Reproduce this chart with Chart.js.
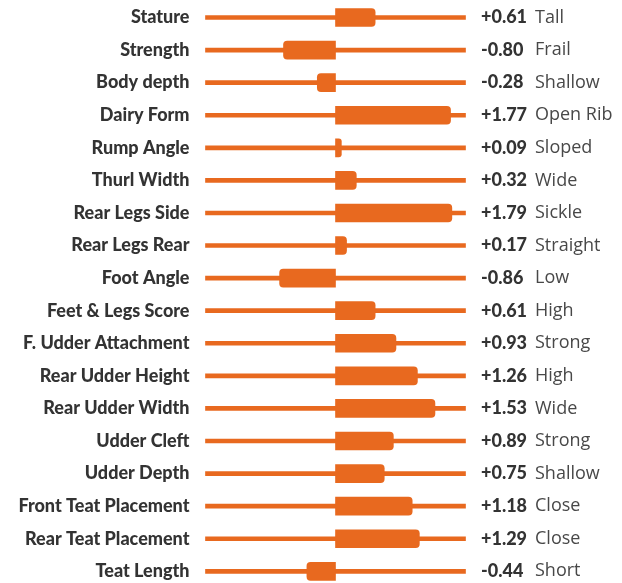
<!DOCTYPE html>
<html>
<head>
<meta charset="utf-8">
<script src="https://cdn.jsdelivr.net/npm/chart.js@4.4.6/dist/chart.umd.min.js"></script>
<style>
  html, body { margin: 0; padding: 0; background: #fff; }
  #wrap { width: 622px; height: 583px; position: relative; }
</style>
</head>
<body>
<div id="wrap"><canvas id="traits"></canvas></div>
<script>
// linear type traits, deviation from breed average
const traits = ['Stature', 'Strength', 'Body depth', 'Dairy Form', 'Rump Angle', 'Thurl Width',
  'Rear Legs Side', 'Rear Legs Rear', 'Foot Angle', 'Feet & Legs Score', 'F. Udder Attachment',
  'Rear Udder Height', 'Rear Udder Width', 'Udder Cleft', 'Udder Depth', 'Front Teat Placement',
  'Rear Teat Placement', 'Teat Length']
const scores = [0.61, -0.80, -0.28, 1.77, 0.09, 0.32, 1.79, 0.17, -0.86, 0.61, 0.93,
  1.26, 1.53, 0.89, 0.75, 1.18, 1.29, -0.44]
const descriptors = ['Tall', 'Frail', 'Shallow', 'Open Rib', 'Sloped', 'Wide', 'Sickle', 'Straight',
  'Low', 'High', 'Strong', 'High', 'Wide', 'Strong', 'Shallow', 'Close', 'Close', 'Short']
const axisMin = -2
const axisMax = 2

const ORANGE = '#E8691F'
const INK = '#333333'

function fmt (v) {
  return (v >= 0 ? '+' : '-') + Math.abs(v).toFixed(2)
}

// value + descriptor text to the right of each track
const sideLabels = {
  id: 'sideLabels',
  afterDatasetsDraw (chart) {
    const { ctx } = chart
    const y = chart.scales.y
    ctx.save()
    ctx.textBaseline = 'middle'
    ctx.textAlign = 'left'
    scores.forEach((v, i) => {
      const py = y.getPixelForValue(i)
      ctx.fillStyle = INK
      ctx.font = '900 18px Lato'
      ctx.fillText(fmt(v), 481, py)
      ctx.fillStyle = '#484848'
      ctx.font = '18px "Open Sans"'
      ctx.fillText(descriptors[i], 535, py)
    })
    ctx.restore()
  }
}

new Chart(document.getElementById('traits'), {
  type: 'bar',
  data: {
    labels: traits,
    datasets: [
      {
        data: scores,
        backgroundColor: ORANGE,
        barThickness: 18,
        borderRadius: 4,
        grouped: false,
        clip: false,
        order: 0
      },
      {
        // full-width track behind the bars
        data: traits.map(() => [axisMin, axisMax]),
        backgroundColor: ORANGE,
        barThickness: 4,
        borderRadius: 0,
        grouped: false,
        clip: false,
        order: 1
      }
    ]
  },
  options: {
    indexAxis: 'y',
    responsive: true,
    maintainAspectRatio: false,
    animation: false,
    layout: { padding: { top: 17.5, bottom: 11.7, right: 156.5 } },
    plugins: { legend: { display: false }, tooltip: { enabled: false } },
    scales: {
      x: { display: false, min: axisMin, max: axisMax },
      y: {
        offset: false,
        border: { display: false },
        // invisible tick marks give the gap between label and track
        grid: { color: 'rgba(0,0,0,0)', drawOnChartArea: false, tickLength: 16 },
        ticks: { color: INK, font: { family: 'Lato', weight: 900, size: 18 }, padding: 0 },
        afterFit (scale) { scale.width = 205.5 }
      }
    }
  },
  plugins: [sideLabels]
})
</script>
</body>
</html>
